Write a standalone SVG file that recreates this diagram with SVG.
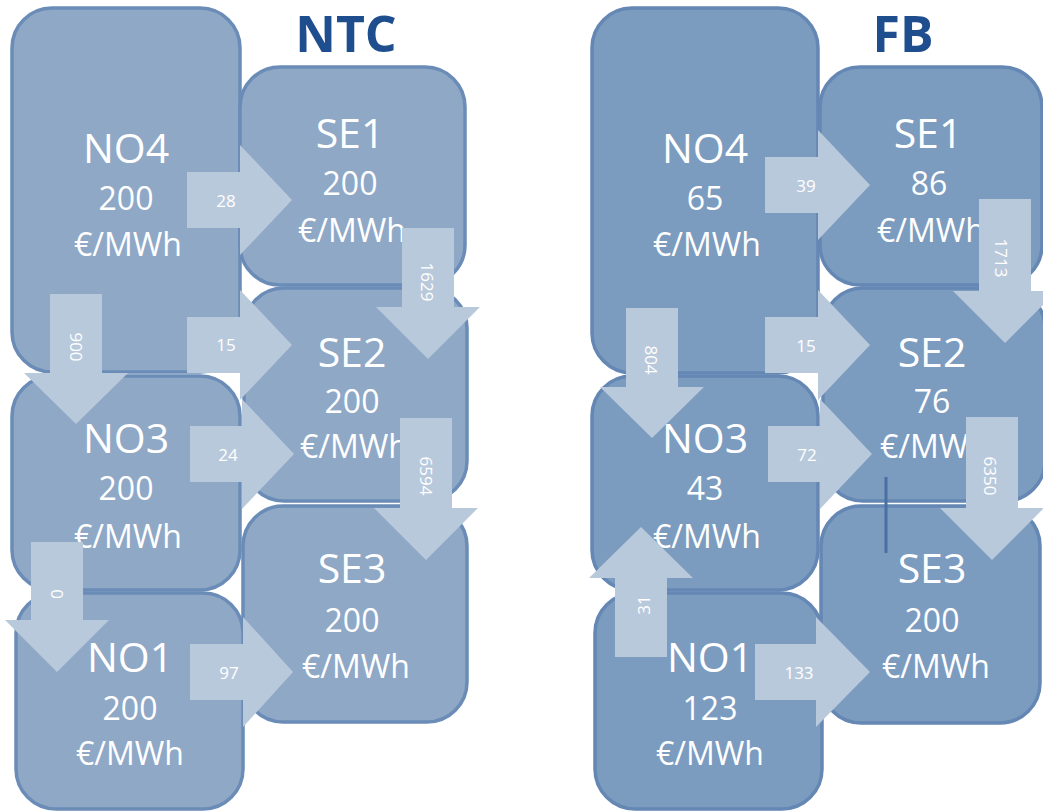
<svg xmlns="http://www.w3.org/2000/svg" width="1043" height="812" viewBox="0 0 1043 812">
<style>
.ntc{fill:#8FA8C6;stroke:#6A8CB7;stroke-width:3.5}
.fb{fill:#7B9BBF;stroke:#6487B4;stroke-width:3.5}
.arr{fill:#B9C9DC}
.t{font-family:"Open Sans","Liberation Sans",sans-serif;fill:#FFFFFF;text-anchor:middle}
.nm{font-size:41px}
.v{font-size:32px}
.al{font-family:"Open Sans","Liberation Sans",sans-serif;fill:#FFFFFF;font-size:17px;text-anchor:middle;dominant-baseline:central}
.title{font-family:"Open Sans","Liberation Sans",sans-serif;font-weight:bold;font-size:50px;fill:#1F4E8F;text-anchor:middle}
</style>
<rect width="1043" height="812" fill="#FFFFFF"/>
<text class="title" x="346" y="52">NTC</text>
<text class="title" x="903" y="52">FB</text>

<g id="ntc-NO4"><rect class="ntc" x="12" y="8" width="228" height="364" rx="40"/>
<text class="t nm" x="126" y="163">NO4</text><text class="t v" x="126" y="210">200</text><text class="t v" x="128" y="256">€/MWh</text></g>
<g id="ntc-SE1"><rect class="ntc" x="240" y="67" width="225" height="218" rx="40"/>
<text class="t nm" x="350" y="148">SE1</text><text class="t v" x="350" y="195">200</text><text class="t v" x="352" y="242">€/MWh</text></g>
<g id="ntc-SE2"><rect class="ntc" x="244" y="288" width="223" height="213" rx="40"/>
<text class="t nm" x="352" y="367">SE2</text><text class="t v" x="352" y="413">200</text><text class="t v" x="354" y="458">€/MWh</text></g>
<g id="ntc-NO3"><rect class="ntc" x="12" y="376" width="228" height="214" rx="40"/>
<text class="t nm" x="126" y="453">NO3</text><text class="t v" x="126" y="500">200</text><text class="t v" x="128" y="548">€/MWh</text></g>
<g id="ntc-SE3"><rect class="ntc" x="243" y="506" width="224" height="216" rx="40"/>
<text class="t nm" x="352" y="583">SE3</text><text class="t v" x="352" y="632">200</text><text class="t v" x="356" y="678">€/MWh</text></g>
<g id="ntc-NO1"><rect class="ntc" x="16" y="593" width="227" height="216" rx="40"/>
<text class="t nm" x="130" y="672">NO1</text><text class="t v" x="130" y="720">200</text><text class="t v" x="130" y="765">€/MWh</text></g>

<g id="fb-NO4"><rect class="fb" x="592" y="8" width="226" height="365" rx="40"/>
<text class="t nm" x="705" y="163">NO4</text><text class="t v" x="705" y="210">65</text><text class="t v" x="707" y="256">€/MWh</text></g>
<g id="fb-SE1"><rect class="fb" x="820" y="67" width="222" height="218" rx="40"/>
<text class="t nm" x="928" y="148">SE1</text><text class="t v" x="929" y="195">86</text><text class="t v" x="931" y="242">€/MWh</text></g>
<g id="fb-SE2"><rect class="fb" x="823" y="288" width="222" height="213" rx="40"/>
<text class="t nm" x="932" y="367">SE2</text><text class="t v" x="932" y="413">76</text><text class="t v" x="934" y="458">€/MWh</text></g>
<g id="fb-NO3"><rect class="fb" x="592" y="376" width="226" height="214" rx="40"/>
<text class="t nm" x="705" y="453">NO3</text><text class="t v" x="705" y="500">43</text><text class="t v" x="707" y="548">€/MWh</text></g>
<g id="fb-SE3"><rect class="fb" x="821" y="506" width="219" height="217" rx="40"/>
<text class="t nm" x="932" y="583">SE3</text><text class="t v" x="932" y="632">200</text><text class="t v" x="936" y="678">€/MWh</text></g>
<g id="fb-NO1"><rect class="fb" x="595" y="593" width="227" height="216" rx="40"/>
<text class="t nm" x="710" y="672">NO1</text><text class="t v" x="710" y="720">123</text><text class="t v" x="710" y="765">€/MWh</text></g>

<g id="connectors">
<polygon class="arr" points="187,172 240,172 240,145 292,200 240,255 240,228 187,228"/>
<text class="al" x="226" y="200">28</text>
<polygon class="arr" points="187,317 240,317 240,290 292,345 240,400 240,373 187,373"/>
<text class="al" x="226" y="344">15</text>
<polygon class="arr" points="190,426 242,426 242,399 294,454 242,509 242,482 190,482"/>
<text class="al" x="228" y="454">24</text>
<polygon class="arr" points="190,644 243,644 243,617 293,672 243,727 243,700 190,700"/>
<text class="al" x="229" y="672">97</text>
<polygon class="arr" points="50,294 102,294 102,373 128,373 76,424 24,373 50,373"/>
<text class="al" transform="translate(76,347) rotate(90)">900</text>
<polygon class="arr" points="31,542 83,542 83,620 109,620 57,672 5,620 31,620"/>
<text class="al" transform="translate(57,594) rotate(90)">0</text>
<polygon class="arr" points="402,228 454,228 454,307 480,307 428,359 376,307 402,307"/>
<text class="al" transform="translate(427,282) rotate(90)">1629</text>
<polygon class="arr" points="400,418 452,418 452,508 478,508 426,560 374,508 400,508"/>
<text class="al" transform="translate(426,476) rotate(90)">6594</text>

<polygon class="arr" points="765,157 818,157 818,130 870,185 818,240 818,213 765,213"/>
<text class="al" x="806" y="185">39</text>
<polygon class="arr" points="765,317 818,317 818,290 870,345 818,400 818,373 765,373"/>
<text class="al" x="806" y="345">15</text>
<polygon class="arr" points="768,426 820,426 820,399 872,454 820,509 820,482 768,482"/>
<text class="al" x="807" y="454">72</text>
<polygon class="arr" points="755,644 816,644 816,617 870,672 816,727 816,700 755,700"/>
<text class="al" x="799" y="672">133</text>
<polygon class="arr" points="626,308 678,308 678,387 704,387 652,438 600,387 626,387"/>
<text class="al" transform="translate(651,360) rotate(90)">804</text>
<polygon class="arr" points="615,657 667,657 667,578 693,578 641,527 589,578 615,578"/>
<text class="al" transform="translate(643,605) rotate(-90)">31</text>
<polygon class="arr" points="979,199 1031,199 1031,291 1057,291 1005,343 953,291 979,291"/>
<text class="al" transform="translate(1001,258) rotate(90)">1713</text>
<polygon class="arr" points="966,417 1018,417 1018,508 1044,508 992,560 940,508 966,508"/>
<text class="al" transform="translate(990,476) rotate(90)">6350</text>
<line x1="886" y1="477" x2="886" y2="553" stroke="#4A70A3" stroke-width="3"/>
</g>
</svg>
